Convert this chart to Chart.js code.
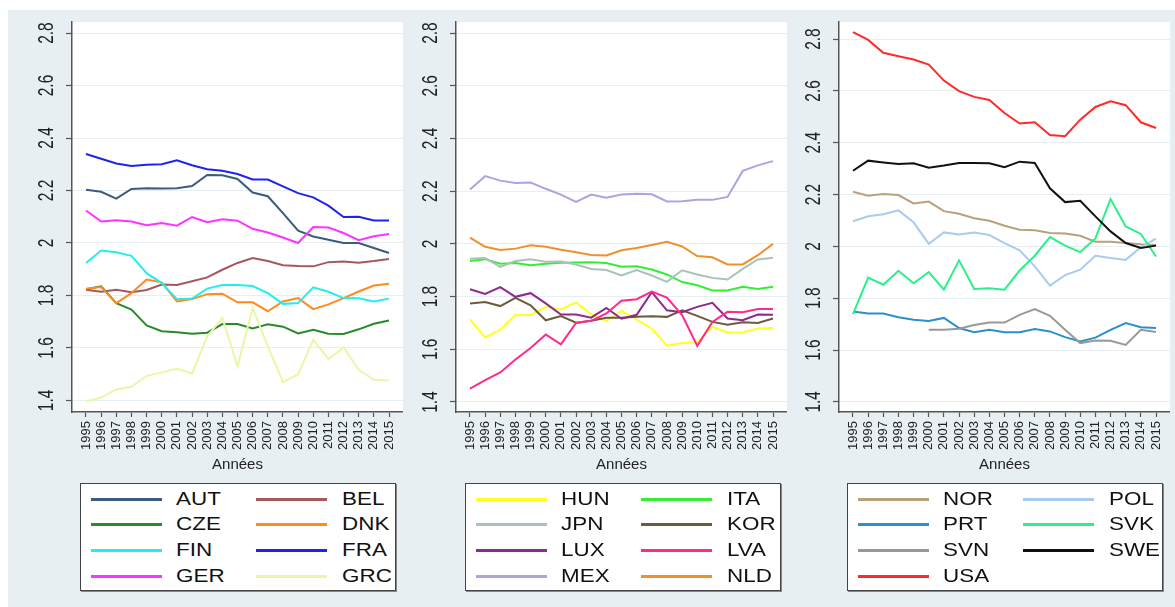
<!DOCTYPE html>
<html>
<head>
<meta charset="utf-8">
<script src="https://cdn.jsdelivr.net/npm/chart.js@4.4.0/dist/chart.umd.min.js"></script>
<style>
  body { margin: 0; width: 1175px; height: 607px; overflow: hidden; background: #fff; font-family: "Liberation Sans", Arial, sans-serif; }
  #bg { position: absolute; left: 8px; top: 10px; width: 1167px; height: 597px; background: #e8eff2; }
  canvas.panel { position: absolute; top: 10px; }
  .legend { position: absolute; top: 483px; height: 106px; background: #fff; border: 1px solid #444; box-shadow: 1px 1px 0 #888; }
  .legend .ln { position: absolute; height: 3px; }
  .legend .tx { position: absolute; font-size: 19px; line-height: 20px; color: #111; transform: scaleX(1.18); transform-origin: left center; }
</style>
</head>
<body>
<div id="bg"></div>
<canvas id="c1" class="panel" width="395" height="470" style="left:8px"></canvas>
<canvas id="c2" class="panel" width="395" height="470" style="left:392px"></canvas>
<canvas id="c3" class="panel" width="395" height="470" style="left:775px"></canvas>
<div id="l1" class="legend" style="left:80px;width:314px"></div>
<div id="l2" class="legend" style="left:465px;width:314px"></div>
<div id="l3" class="legend" style="left:847px;width:314px"></div>
<script>
const years = [1995, 1996, 1997, 1998, 1999, 2000, 2001, 2002, 2003, 2004, 2005,
  2006, 2007, 2008, 2009, 2010, 2011, 2012, 2013, 2014, 2015];
const yTicks = [1.4, 1.6, 1.8, 2.0, 2.2, 2.4, 2.6, 2.8];
const yTickLabels = ['1.4', '1.6', '1.8', '2', '2.2', '2.4', '2.6', '2.8'];

// panel 1
const AUT = [2.203, 2.195, 2.169, 2.206, 2.209, 2.208, 2.209, 2.217, 2.259, 2.258, 2.244, 2.192, 2.178, 2.114, 2.047, 2.025, 2.012, 2.0, 2.0, 1.981, 1.962];
const BEL = [1.822, 1.814, 1.822, 1.812, 1.821, 1.842, 1.840, 1.854, 1.869, 1.898, 1.924, 1.943, 1.931, 1.915, 1.912, 1.911, 1.927, 1.929, 1.925, 1.931, 1.939];
const CZE = [1.824, 1.835, 1.771, 1.746, 1.686, 1.664, 1.660, 1.654, 1.658, 1.691, 1.691, 1.674, 1.690, 1.681, 1.655, 1.669, 1.654, 1.653, 1.671, 1.692, 1.705];
const DNK = [1.826, 1.832, 1.771, 1.809, 1.861, 1.850, 1.777, 1.786, 1.805, 1.807, 1.774, 1.774, 1.740, 1.777, 1.790, 1.748, 1.766, 1.790, 1.815, 1.838, 1.845];
const FIN = [1.924, 1.971, 1.965, 1.951, 1.885, 1.847, 1.786, 1.788, 1.826, 1.840, 1.840, 1.836, 1.809, 1.768, 1.771, 1.831, 1.814, 1.790, 1.789, 1.777, 1.788];
const FRA = [2.339, 2.321, 2.303, 2.293, 2.298, 2.300, 2.315, 2.296, 2.281, 2.275, 2.263, 2.242, 2.242, 2.216, 2.190, 2.174, 2.142, 2.099, 2.100, 2.086, 2.086];
const GER = [2.124, 2.082, 2.087, 2.082, 2.068, 2.076, 2.066, 2.099, 2.079, 2.090, 2.085, 2.054, 2.040, 2.021, 2.0, 2.061, 2.059, 2.038, 2.011, 2.026, 2.034];
const GRC = [1.396, 1.411, 1.442, 1.452, 1.493, 1.507, 1.521, 1.503, 1.644, 1.715, 1.530, 1.752, 1.606, 1.470, 1.500, 1.631, 1.558, 1.602, 1.517, 1.479, 1.476];

// panel 2
const HUN = [1.713, 1.645, 1.675, 1.730, 1.730, 1.761, 1.751, 1.778, 1.733, 1.708, 1.746, 1.713, 1.679, 1.614, 1.624, 1.627, 1.685, 1.664, 1.664, 1.679, 1.681];
const ITA = [1.935, 1.942, 1.925, 1.927, 1.919, 1.925, 1.928, 1.929, 1.930, 1.927, 1.913, 1.915, 1.903, 1.884, 1.855, 1.843, 1.823, 1.823, 1.837, 1.829, 1.837];
const JPN = [1.944, 1.946, 1.913, 1.935, 1.942, 1.932, 1.933, 1.922, 1.905, 1.901, 1.880, 1.901, 1.880, 1.856, 1.900, 1.884, 1.871, 1.865, 1.905, 1.941, 1.947];
const KOR = [1.774, 1.779, 1.764, 1.795, 1.767, 1.710, 1.726, 1.701, 1.708, 1.720, 1.720, 1.723, 1.725, 1.723, 1.748, 1.727, 1.704, 1.693, 1.703, 1.700, 1.717];
const LUX = [1.828, 1.810, 1.836, 1.799, 1.813, 1.774, 1.732, 1.732, 1.720, 1.757, 1.716, 1.731, 1.817, 1.748, 1.741, 1.761, 1.776, 1.717, 1.710, 1.732, 1.731];
const LVA = [1.451, 1.483, 1.512, 1.561, 1.605, 1.656, 1.619, 1.700, 1.708, 1.736, 1.784, 1.790, 1.819, 1.796, 1.730, 1.613, 1.704, 1.742, 1.741, 1.753, 1.753];
const MEX = [2.206, 2.257, 2.240, 2.231, 2.233, 2.209, 2.187, 2.159, 2.187, 2.175, 2.187, 2.190, 2.188, 2.161, 2.162, 2.167, 2.167, 2.178, 2.277, 2.298, 2.314];
const NLD = [2.024, 1.989, 1.977, 1.982, 1.995, 1.989, 1.978, 1.968, 1.958, 1.956, 1.976, 1.984, 1.996, 2.008, 1.990, 1.954, 1.949, 1.922, 1.922, 1.957, 2.0];

// panel 3
const NOR = [2.211, 2.196, 2.202, 2.198, 2.166, 2.173, 2.136, 2.126, 2.109, 2.099, 2.080, 2.064, 2.062, 2.052, 2.050, 2.041, 2.018, 2.018, 2.013, 2.008, 2.005];
const POL = [2.097, 2.116, 2.124, 2.139, 2.093, 2.010, 2.054, 2.046, 2.054, 2.044, 2.013, 1.985, 1.923, 1.849, 1.889, 1.910, 1.964, 1.955, 1.948, 1.997, 2.030];
const PRT = [1.749, 1.741, 1.741, 1.727, 1.717, 1.712, 1.724, 1.685, 1.669, 1.678, 1.669, 1.669, 1.681, 1.672, 1.650, 1.633, 1.648, 1.678, 1.704, 1.688, 1.685];
const SVK = [1.739, 1.880, 1.852, 1.906, 1.858, 1.901, 1.833, 1.946, 1.836, 1.839, 1.833, 1.907, 1.964, 2.036, 2.003, 1.978, 2.031, 2.183, 2.077, 2.048, 1.961];
const SVN = [null, null, null, null, null, 1.678, 1.678, 1.682, 1.697, 1.706, 1.706, 1.736, 1.758, 1.732, 1.678, 1.627, 1.637, 1.636, 1.620, 1.678, 1.670];
const SWE = [2.292, 2.331, 2.324, 2.318, 2.321, 2.304, 2.312, 2.322, 2.322, 2.321, 2.306, 2.327, 2.322, 2.224, 2.171, 2.176, 2.116, 2.058, 2.013, 1.994, 2.003];
const USA = [2.827, 2.797, 2.747, 2.734, 2.721, 2.702, 2.640, 2.599, 2.577, 2.565, 2.515, 2.474, 2.479, 2.430, 2.425, 2.489, 2.538, 2.560, 2.545, 2.479, 2.457];

const names1 = ['AUT', 'BEL', 'CZE', 'DNK', 'FIN', 'FRA', 'GER', 'GRC'];
const series1 = [AUT, BEL, CZE, DNK, FIN, FRA, GER, GRC];
const colors1 = ['#3c5b7d', '#a5585c', '#2a8a2a', '#ff8a1e', '#22eef0', '#2222ee', '#ff33ff', '#eaf7a8'];

const names2 = ['HUN', 'ITA', 'JPN', 'KOR', 'LUX', 'LVA', 'MEX', 'NLD'];
const series2 = [HUN, ITA, JPN, KOR, LUX, LVA, MEX, NLD];
const colors2 = ['#ffff22', '#33ee33', '#a8c4b8', '#6e5a3c', '#8e2a8e', '#ff2a8a', '#aaa4e0', '#f0902a'];

const names3 = ['NOR', 'POL', 'PRT', 'SVK', 'SVN', 'SWE', 'USA'];
const series3 = [NOR, POL, PRT, SVK, SVN, SWE, USA];
const colors3 = ['#b8a27a', '#a8ccf0', '#2a90cc', '#2af088', '#999999', '#111111', '#ff2a2a'];

const FONT = '"Liberation Sans", Arial, sans-serif';

// white plot region
const plotBg = {
  id: 'plotBg',
  beforeDraw(chart) {
    const {ctx, chartArea: a} = chart;
    ctx.save();
    ctx.fillStyle = '#fff';
    ctx.fillRect(a.left, a.top, a.right - a.left, a.bottom - a.top);
    ctx.restore();
  }
};

// y labels turned sideways, like the Stata output
const yLabels = {
  id: 'yLabels',
  afterDraw(chart) {
    const ctx = chart.ctx, s = chart.scales.y;
    ctx.save();
    ctx.fillStyle = '#222';
    ctx.font = '22px ' + FONT;
    ctx.textAlign = 'center';
    ctx.textBaseline = 'middle';
    yTicks.forEach((v, i) => {
      ctx.save();
      ctx.translate(chart.chartArea.left - 25, s.getPixelForValue(v));
      ctx.rotate(-Math.PI / 2);
      ctx.scale(0.7, 1);
      ctx.fillText(yTickLabels[i], 0, 0);
      ctx.restore();
    });
    ctx.restore();
  }
};

function makeChart(id, names, series, colors, yMin, yMax) {
  return new Chart(document.getElementById(id), {
    type: 'line',
    data: {
      datasets: names.map((n, i) => ({
        label: n,
        data: years.map((yr, j) => ({x: yr, y: series[i][j]})),
        borderColor: colors[i],
        backgroundColor: colors[i],
        borderWidth: 2,
        pointRadius: 0,
        tension: 0,
        spanGaps: false,
        order: names.length - i
      }))
    },
    options: {
      responsive: false,
      animation: false,
      events: [],
      layout: {padding: {top: 12, right: 0, bottom: 6, left: 0}},
      plugins: {legend: {display: false}, tooltip: {enabled: false}},
      scales: {
        x: {
          type: 'linear',
          min: 1994.076,
          max: 2015.924,
          afterBuildTicks(s) { s.ticks = years.map(v => ({value: v})); },
          afterFit(s) { s.height = 62; s.paddingLeft = 0; s.paddingRight = 0; },
          ticks: {
            autoSkip: false,
            minRotation: 90,
            maxRotation: 90,
            padding: 4,
            color: '#222',
            font: {family: FONT, size: 13},
            callback: v => String(v)
          },
          grid: {display: true, drawOnChartArea: false, drawTicks: true, tickLength: 5, tickColor: '#555', tickWidth: 1.2},
          border: {display: true, color: '#555', width: 1.5},
          title: {display: true, text: 'Années', color: '#222', font: {family: FONT, size: 15}, padding: {top: 0, bottom: 0}}
        },
        y: {
          min: yMin,
          max: yMax,
          afterBuildTicks(s) { s.ticks = yTicks.map(v => ({value: v})); },
          afterFit(s) { s.width = 64; s.paddingTop = 0; s.paddingBottom = 0; },
          ticks: {display: false},
          grid: {color: '#e6eef1', lineWidth: 1, drawTicks: true, tickLength: 6, tickColor: '#555', tickWidth: 1.2},
          border: {display: true, color: '#555', width: 1.5}
        }
      }
    },
    plugins: [plotBg, yLabels]
  });
}

makeChart('c1', names1, series1, colors1, 1.356, 2.842);
makeChart('c2', names2, series2, colors2, 1.362, 2.842);
makeChart('c3', names3, series3, colors3, 1.361, 2.866);

// legend boxes, two columns
function buildLegend(id, names, colors) {
  const box = document.getElementById(id);
  const rows = [15, 40, 66, 92];
  const lineX = [10, 175], textX = [95, 261];
  names.forEach((n, i) => {
    const col = i % 2, row = Math.floor(i / 2);
    const ln = document.createElement('div');
    ln.className = 'ln';
    ln.style.left = lineX[col] + 'px';
    ln.style.width = '71px';
    ln.style.top = (rows[row] - 1.5) + 'px';
    ln.style.background = colors[i];
    box.appendChild(ln);
    const tx = document.createElement('div');
    tx.className = 'tx';
    tx.style.left = textX[col] + 'px';
    tx.style.top = (rows[row] - 10) + 'px';
    tx.textContent = n;
    box.appendChild(tx);
  });
}
buildLegend('l1', names1, colors1);
buildLegend('l2', names2, colors2);
buildLegend('l3', names3, colors3);
</script>
</body>
</html>
